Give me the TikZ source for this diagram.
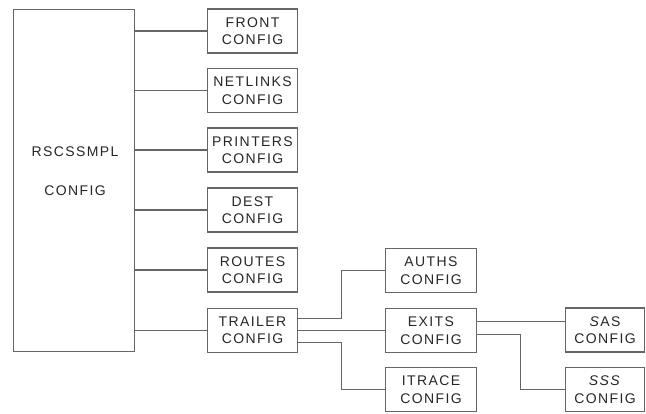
\documentclass[tikz,border=0pt]{standalone}
\usepackage{fontspec}
\newfontfamily\boxfont[LetterSpace=10]{Liberation Sans}
\begin{document}
\begin{tikzpicture}[
    x=1pt, y=-1pt,
    box/.style={draw=black!60, line width=1.4pt, minimum width=90pt, minimum height=44pt,
                inner sep=0pt, align=center, text=black!85,
                font=\boxfont\fontsize{14}{17.5}\selectfont},
    link/.style={draw=black!60, line width=1.4pt}
]
\useasboundingbox (0,0) rectangle (646,414);

% RSCSSMPL
\node[box, minimum width=121pt, minimum height=342pt] (cfg) at (74, 180.5) {};
\node[font=\boxfont\fontsize{14}{17.5}\selectfont, text=black!85, align=center] (cfgtxt) at (75, 171)
    {RSCSSMPL\\[22pt]CONFIG};

% first level
\node[box] (front) at (252.5, 31) {FRONT\\CONFIG};
\node[box] (netlinks) at (252.5, 90.5) {NETLINKS\\CONFIG};
\node[box] (printers) at (252.5, 150) {PRINTERS\\CONFIG};
\node[box] (dest) at (252.5, 210) {DEST\\CONFIG};
\node[box] (routes) at (252.5, 270) {ROUTES\\CONFIG};
\node[box] (trailer) at (252.5, 330.5) {TRAILER\\CONFIG};

% second level
\node[box, minimum width=91pt] (auths) at (431, 270.5) {AUTHS\\CONFIG};
\node[box, minimum width=91pt] (exits) at (431, 330.5) {EXITS\\CONFIG};
\node[box, minimum width=91pt] (itrace) at (431, 389.5) {ITRACE\\CONFIG};

% third level
\node[box, minimum width=79pt] (sas) at (605, 330) {\textit{S}AS\\CONFIG};
\node[box, minimum width=79pt] (sss) at (605, 389.5) {\textit{SSS}\\CONFIG};

% Links
\foreach \n in {front, netlinks, printers, dest, routes, trailer}
    \draw[link] (cfg.east |- \n.west) -- (\n.west);

\draw[link] ([yshift=12pt]trailer.east) -- ++(43,0) |- (auths.west);
\draw[link] (trailer.east) -- (exits.west);
\draw[link] ([yshift=-12pt]trailer.east) -- ++(43,0) |- (itrace.west);

\draw[link] ([yshift=9pt]exits.east) -- ([yshift=9pt]exits.east -| sas.west);
\draw[link] ([yshift=-4pt]exits.east) -- ++(43,0) |- (sss.west);
\end{tikzpicture}
\end{document}
